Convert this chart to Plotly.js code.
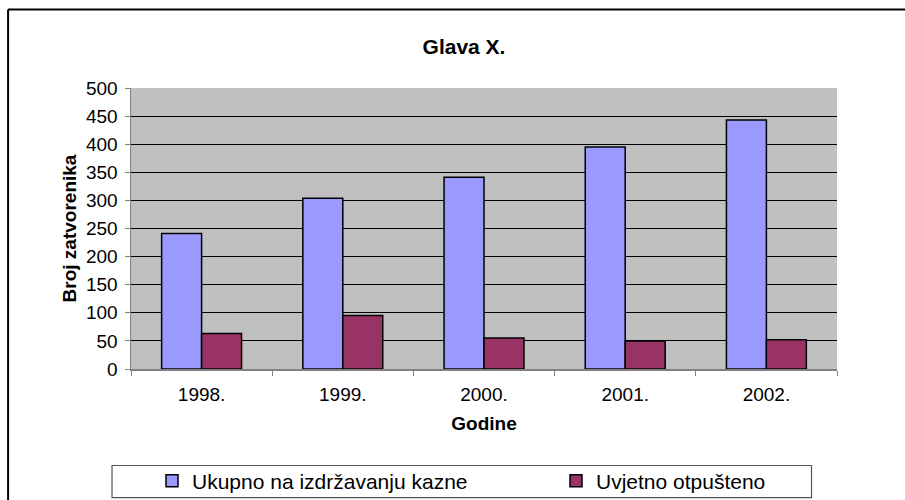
<!DOCTYPE html>
<html>
<head>
<meta charset="utf-8">
<script src="https://cdn.plot.ly/plotly-3.0.1.min.js"></script>
<style>html,body{margin:0;padding:0;background:#fff;}#chart{width:905px;height:500px;}</style>
</head>
<body>
<div id="chart"></div>
<script>
var years = ["1998.", "1999.", "2000.", "2001.", "2002."];
var ukupno = [241, 304, 341, 395, 443];
var uvjetno = [63, 95, 55, 50, 52];
var seriesNames = ["Ukupno na izdržavanju kazne", "Uvjetno otpušteno"];
var yTicks = [0, 50, 100, 150, 200, 250, 300, 350, 400, 450, 500];

var font = "Liberation Sans, Arial, sans-serif";
var traces = [
  {type: "bar", x: years, y: ukupno, name: seriesNames[0], legendwidth: 359,
   marker: {color: "#9999FF", line: {color: "#000000", width: 1.5}}},
  {type: "bar", x: years, y: uvjetno, name: seriesNames[1], legendwidth: 180,
   marker: {color: "#993366", line: {color: "#000000", width: 1.5}}}
];

var W = 905, H = 500;
var L = 131, R = 837.5, T = 88.3, B = 368.7;
function px(x){ return (x - L) / (R - L); }
function py(y){ return (B - y) / (B - T); }

var layout = {
  width: W, height: H,
  margin: {l: L, r: W - R, t: T, b: H - B, pad: 0},
  paper_bgcolor: "#FFFFFF",
  plot_bgcolor: "#C0C0C0",
  font: {family: font, size: 19, color: "#000"},
  title: {text: "<b>Glava X.</b>", x: 464/W, xref: "container", xanchor: "center",
          y: 1 - 47/H, yref: "container", yanchor: "middle",
          font: {family: font, size: 21, color: "#000"}},
  barmode: "group",
  bargap: 0.434,
  bargroupgap: 0,
  showlegend: true,
  legend: {orientation: "h", xref: "container", yref: "container",
           x: 152/W, xanchor: "left", y: 1 - 481/H, yanchor: "middle",
           bgcolor: "rgba(0,0,0,0)", borderwidth: 0,
           font: {family: font, size: 21, color: "#000"}, traceorder: "normal"},
  xaxis: {type: "category", showgrid: false, showline: true, linecolor: "#808080", linewidth: 1.5,
          ticks: "outside", tickson: "boundaries", ticklen: 5, tickcolor: "#808080",
          ticklabelstandoff: 8,
          tickfont: {family: font, size: 19},
          title: {text: "<b>Godine</b>", font: {family: font, size: 19}, standoff: 12},
          automargin: false, fixedrange: true},
  yaxis: {range: [0, 500], tickvals: yTicks, ticktext: yTicks.map(String),
          showgrid: true, gridcolor: "#000000", gridwidth: 1, zeroline: false,
          showline: true, linecolor: "#808080", linewidth: 1.5,
          ticks: "outside", ticklen: 5, tickcolor: "#808080",
          ticklabelstandoff: 3,
          tickfont: {family: font, size: 19},
          title: {text: "<b>Broj zatvorenika</b>", font: {family: font, size: 19}, standoff: 4},
          automargin: false, fixedrange: true},
  shapes: [
    {type: "line", xref: "paper", yref: "paper", x0: px(8), x1: px(910), y0: py(10), y1: py(10),
     line: {color: "#000000", width: 2}},
    {type: "line", xref: "paper", yref: "paper", x0: px(8), x1: px(8), y0: py(10), y1: py(510),
     line: {color: "#000000", width: 2}},
    {type: "rect", xref: "paper", yref: "paper", x0: px(112), x1: px(812), y0: py(465), y1: py(497),
     line: {color: "#555555", width: 1.2}, fillcolor: "rgba(0,0,0,0)"}
  ]
};

Plotly.newPlot("chart", traces, layout, {displayModeBar: false, staticPlot: true});
</script>
</body>
</html>
